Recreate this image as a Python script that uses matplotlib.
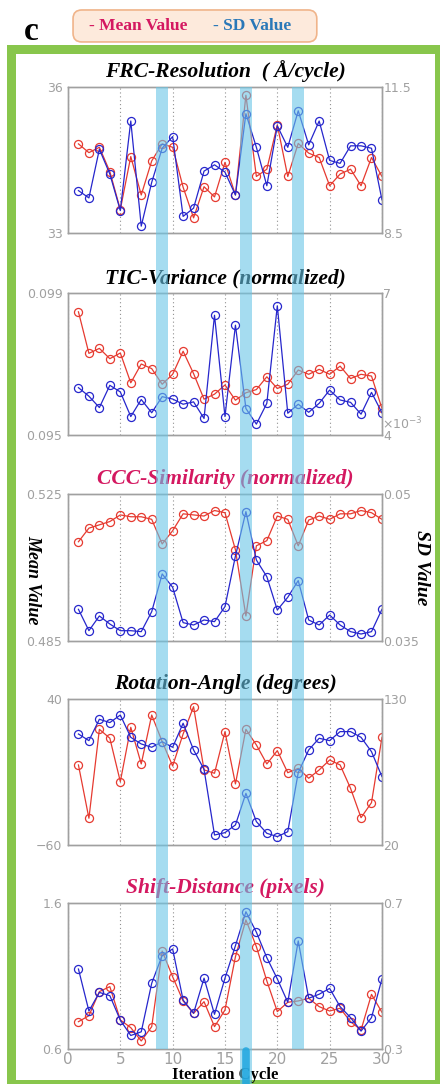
import matplotlib
matplotlib.use("Agg")
import matplotlib.pyplot as plt
from matplotlib.patches import Rectangle, FancyBboxPatch
from matplotlib.lines import Line2D
from matplotlib.transforms import blended_transform_factory

# iteration cycles on the x axis
cycles = list(range(1, 31))

# FRC resolution (A/cycle)
frc_mean = [34.83, 34.65, 34.76, 34.26, 33.48, 34.57, 33.78, 34.48, 34.83, 34.76,
            33.94, 33.31, 33.95, 33.74, 34.45, 33.78, 35.83, 34.16, 34.31, 35.22,
            34.16, 34.84, 34.64, 34.55, 33.97, 34.21, 34.31, 33.97, 34.55, 34.16]
frc_sd = [9.37, 9.22, 10.22, 9.71, 8.96, 10.80, 8.64, 9.54, 10.24, 10.48,
          8.84, 9.01, 9.77, 9.90, 9.75, 9.28, 10.95, 10.26, 9.47, 10.70,
          10.26, 11.01, 10.31, 10.80, 9.99, 9.93, 10.29, 10.29, 10.24, 9.18]

# TIC variance (normalized), SD in units of 1e-3
tic_mean = [0.09847, 0.09730, 0.09744, 0.09715, 0.09731, 0.09647, 0.09700, 0.09687, 0.09643, 0.09671,
            0.09736, 0.09673, 0.09601, 0.09615, 0.09641, 0.09598, 0.09619, 0.09628, 0.09664, 0.09631,
            0.09643, 0.09683, 0.09671, 0.09685, 0.09671, 0.09694, 0.09659, 0.09671, 0.09666, 0.09575]
tic_sd_e3 = [5.00, 4.82, 4.58, 5.05, 4.91, 4.39, 4.75, 4.47, 4.81, 4.76,
             4.65, 4.70, 4.35, 6.53, 4.39, 6.32, 4.56, 4.23, 4.67, 6.73,
             4.46, 4.65, 4.48, 4.67, 4.95, 4.74, 4.69, 4.44, 4.90, 4.47]

# CCC similarity (normalized)
ccc_mean = [0.5120, 0.5157, 0.5166, 0.5175, 0.5193, 0.5188, 0.5188, 0.5181, 0.5114, 0.5150,
            0.5196, 0.5193, 0.5190, 0.5205, 0.5199, 0.5098, 0.4918, 0.5109, 0.5123, 0.5190,
            0.5181, 0.5109, 0.5179, 0.5190, 0.5181, 0.5196, 0.5196, 0.5205, 0.5199, 0.5181]
ccc_sd = [0.03823, 0.03605, 0.03755, 0.03673, 0.03605, 0.03605, 0.03595, 0.03799, 0.04184, 0.04048,
          0.03687, 0.03663, 0.03714, 0.03697, 0.03850, 0.04367, 0.04820, 0.04326, 0.04156, 0.03816,
          0.03946, 0.04116, 0.03714, 0.03663, 0.03765, 0.03663, 0.03595, 0.03571, 0.03595, 0.03823]

# rotation angle (degrees)
rot_mean = [-5.2, -41.7, 19.2, 13.1, -16.6, 20.6, -4.5, 29.0, 10.8, -5.9,
            16.0, 34.7, -8.6, -10.9, 17.6, -18.2, 19.2, 8.5, -4.5, 4.6,
            -10.5, -7.5, -14.3, -8.6, -1.8, -5.2, -21.2, -41.3, -31.0, 13.7]
rot_sd = [103.6, 98.6, 114.7, 112.2, 117.9, 101.1, 96.1, 93.6, 97.8, 93.6,
          111.7, 91.6, 77.0, 27.5, 29.3, 35.1, 58.9, 37.6, 28.8, 26.3,
          30.0, 74.5, 91.6, 100.4, 98.6, 105.4, 105.4, 101.1, 90.3, 71.5]

# shift distance (pixels)
shift_mean = [0.787, 0.828, 0.993, 1.027, 0.799, 0.746, 0.655, 0.753, 1.271, 1.095,
              0.929, 0.844, 0.924, 0.753, 0.867, 1.232, 1.484, 1.301, 1.066, 0.856,
              0.920, 0.929, 0.947, 0.890, 0.860, 0.879, 0.787, 0.730, 0.974, 0.851]
shift_sd = [0.519, 0.404, 0.455, 0.446, 0.379, 0.337, 0.347, 0.480, 0.556, 0.574,
            0.434, 0.398, 0.494, 0.395, 0.494, 0.583, 0.676, 0.620, 0.550, 0.492,
            0.428, 0.596, 0.439, 0.450, 0.466, 0.416, 0.386, 0.349, 0.386, 0.492]

# highlighted cycles
band_cycles = [9, 17, 22]
marker_cycle = 17

titles = ["FRC-Resolution  ( Å/cycle)", "TIC-Variance (normalized)",
          "CCC-Similarity (normalized)", "Rotation-Angle (degrees)",
          "Shift-Distance (pixels)"]
mean_series = [frc_mean, tic_mean, ccc_mean, rot_mean, shift_mean]
sd_series = [frc_sd, tic_sd_e3, ccc_sd, rot_sd, shift_sd]
mean_limits = [(33, 36), (0.095, 0.099), (0.485, 0.525), (-60, 40), (0.6, 1.6)]
sd_limits = [(8.5, 11.5), (4, 7), (0.035, 0.05), (20, 130), (0.3, 0.7)]
mean_ticklabels = [["33", "36"], ["0.095", "0.099"], ["0.485", "0.525"], ["\u221260", "40"], ["0.6", "1.6"]]
sd_ticklabels = [["8.5", "11.5"], ["4", "7"], ["0.035", "0.05"], ["20", "130"], ["0.3", "0.7"]]

RED = "#e63a30"
BLUE = "#2626cc"
CRIMSON = "#d41860"
GRAY = "#a0a0a0"
GREEN = "#88c64c"
SERIF = "Liberation Serif"

title_colors = ["black", "black", CRIMSON, "black", CRIMSON]
# axes [left, bottom, width, height] in figure fraction
positions = [[0.1545, 0.7851, 0.7136, 0.1347],
             [0.1545, 0.5987, 0.7136, 0.1310],
             [0.1545, 0.4087, 0.7136, 0.1356],
             [0.1545, 0.2205, 0.7136, 0.1347],
             [0.1545, 0.0323, 0.7136, 0.1347]]

fig = plt.figure(figsize=(4.4, 10.84), dpi=100)

# green frame
fig.add_artist(Rectangle((0.0159, 0.0), 0.984, 0.9585, transform=fig.transFigure,
                         facecolor=GREEN, edgecolor="none", zorder=-5))
fig.add_artist(Rectangle((0.0364, 0.0037), 0.952, 0.9465, transform=fig.transFigure,
                         facecolor="white", edgecolor="none", zorder=-4))

axes = []
for i in range(5):
    ax = fig.add_axes(positions[i])
    ax2 = ax.twinx()
    ax.patch.set_alpha(0)

    ax.plot(cycles, mean_series[i], "-o", color=RED, lw=0.9, ms=5.8, mfc="none", mew=0.9)
    ax2.plot(cycles, sd_series[i], "-o", color=BLUE, lw=0.9, ms=5.8, mfc="none", mew=0.9)

    ax.set_xlim(0, 30)
    ax.set_ylim(*mean_limits[i])
    ax2.set_ylim(*sd_limits[i])
    ax.set_yticks(mean_limits[i])
    ax.set_yticklabels(mean_ticklabels[i])
    ax2.set_yticks(sd_limits[i])
    ax2.set_yticklabels(sd_ticklabels[i])
    ax.set_xticks(range(0, 31, 5))
    ax.grid(axis="x", linestyle=(0, (1, 2.5)), color="#909090", lw=0.8)

    for a in (ax, ax2):
        for s in a.spines.values():
            s.set_color(GRAY)
            s.set_linewidth(1.0)
    ax.tick_params(axis="y", length=0, pad=4, labelsize=9, labelcolor=GRAY)
    ax2.tick_params(axis="y", length=0, pad=1, labelsize=9, labelcolor=GRAY)
    if i < 4:
        ax.tick_params(axis="x", length=0, labelbottom=False)
    else:
        ax.tick_params(axis="x", length=0, pad=2, labelsize=11, labelcolor=GRAY)

    ax.set_title(titles[i], fontfamily=SERIF, fontweight="bold", fontstyle="italic",
                 fontsize=15.5, color=title_colors[i], pad=7)
    axes.append(ax)

# exponent for the TIC sd axis
axes[1].text(1.0, 0.08, r"$\times10^{-3}$", transform=axes[1].transAxes,
             ha="left", va="center", fontsize=9, color=GRAY)

# highlighted cycle bands across all panels
trans = blended_transform_factory(axes[4].transData, fig.transFigure)
for c in band_cycles:
    y0 = 0.0 if c == marker_cycle else 0.0323
    fig.add_artist(Rectangle((c - 0.55, y0), 1.1, 0.9197 - y0, transform=trans,
                             facecolor="#69c5e6", edgecolor="none", alpha=0.6, zorder=5))
fig.add_artist(Line2D([marker_cycle, marker_cycle], [0.0, 0.030], transform=trans,
                      lw=5.5, color="#1ea6e0", alpha=0.85, solid_capstyle="round", zorder=6))

# side labels
fig.text(0.075, 0.465, "Mean Value", rotation=-90, ha="center", va="center",
         fontfamily=SERIF, fontweight="bold", fontstyle="italic", fontsize=13)
fig.text(0.957, 0.476, "SD Value", rotation=-90, ha="center", va="center",
         fontfamily=SERIF, fontweight="bold", fontstyle="italic", fontsize=14)
fig.text(0.512, 0.0082, "Iteration Cycle", ha="center", va="center",
         fontfamily=SERIF, fontweight="bold", fontsize=12)

# panel letter and legend box
fig.text(0.072, 0.971, "c", ha="center", va="center", fontfamily=SERIF,
         fontweight="bold", fontsize=24)
fig.add_artist(FancyBboxPatch((0.166, 0.9613), 0.554, 0.0295, transform=fig.transFigure,
                              boxstyle="round,pad=0,rounding_size=0.02", mutation_aspect=0.4,
                              facecolor="#fdeadc", edgecolor="#f0b48a", lw=1.2, zorder=3))
fig.text(0.203, 0.976, "- Mean Value", ha="left", va="center", fontfamily=SERIF,
         fontweight="bold", fontsize=12.5, color=CRIMSON, zorder=4)
fig.text(0.484, 0.976, "- SD Value", ha="left", va="center", fontfamily=SERIF,
         fontweight="bold", fontsize=12.5, color="#2a78b8", zorder=4)

plt.savefig("out.png", dpi=100)
